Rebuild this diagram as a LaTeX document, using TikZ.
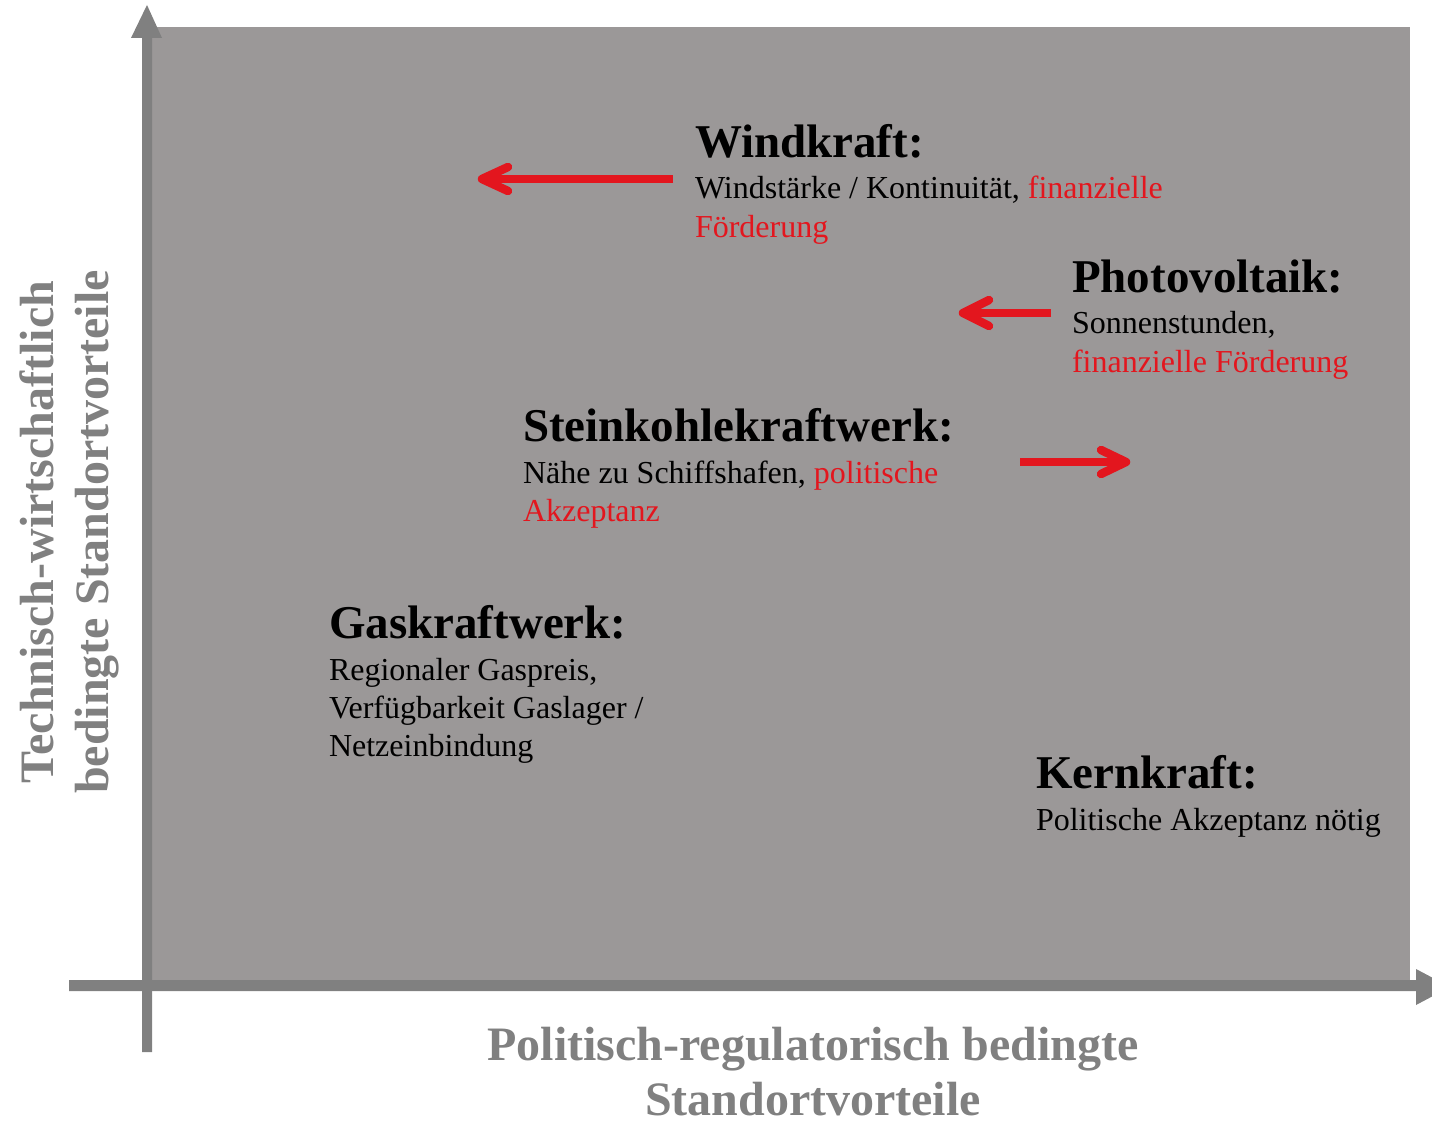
\documentclass[tikz,border=0pt]{standalone}
\usepackage{fontspec}
\setmainfont{Liberation Serif}
\definecolor{bgray}{RGB}{155,152,152}
\definecolor{axgray}{RGB}{128,128,128}
\definecolor{ared}{RGB}{227,22,30}
\begin{document}
\begin{tikzpicture}[x=1pt,y=-1pt,
  title/.style={anchor=base west, inner sep=0pt, outer sep=0pt, font=\fontsize{47}{52}\selectfont\bfseries},
  body/.style={anchor=base west, inner sep=0pt, outer sep=0pt, font=\fontsize{32}{38}\selectfont},
  axlabel/.style={anchor=base, inner sep=0pt, outer sep=0pt, text=axgray, font=\fontsize{48}{56}\selectfont\bfseries},
  shaft/.style={draw=ared, line width=8.5pt, line cap=butt},
  head/.style={draw=ared, line width=8.5pt, line cap=round, line join=round},
  axis/.style={fill=axgray},
  hi/.style={text=ared}
]
\useasboundingbox (0,0) rectangle (1432,1123);
\clip (0,0) rectangle (1432,1123);

% background field
\fill[bgray] (152,27) rectangle (1410,985);

% axes
\fill[axis] (142,1052) -- (142,38) -- (131,38) -- (147,5) -- (162,38) -- (152,38) -- (152,1052) -- cycle;
\fill[axis] (69,980) -- (1416,980) -- (1416,969) -- (1450,987) -- (1416,1005) -- (1416,991) -- (69,991) -- cycle;

% axis labels
\node[axlabel] (xl1) at (813,1060) {Politisch-regulatorisch bedingte};
\node[axlabel] (xl2) at (813,1115) {Standortvorteile};
\node[axlabel, rotate=90] (yl1) at (53,532) {Technisch-wirtschaftlich};
\node[axlabel, rotate=90] (yl2) at (108,532) {bedingte Standortvorteile};

% Windkraft
\node[title] (wt) at (695,158) {Windkraft:};
\node[body] (wb1) at (695,199) {Windstärke / Kontinuität, \textcolor{ared}{finanzielle}};
\node[body, hi] (wb2) at (695,238) {Förderung};

% Photovoltaik
\node[title] (pt) at (1072,293) {Photovoltaik:};
\node[body] (pb1) at (1072,334) {Sonnenstunden,};
\node[body, hi] (pb2) at (1072,372) {finanzielle Förderung};

% Steinkohlekraftwerk
\node[title] (st) at (523,441) {Steinkohlekraftwerk:};
\node[body] (sb1) at (523,483) {Nähe zu Schiffshafen, \textcolor{ared}{politische}};
\node[body, hi] (sb2) at (523,521) {Akzeptanz};

% Gaskraftwerk
\node[title] (gt) at (329,638) {Gaskraftwerk:};
\node[body] (gb1) at (329,680) {Regionaler Gaspreis,};
\node[body] (gb2) at (329,718) {Verfügbarkeit Gaslager /};
\node[body] (gb3) at (329,756) {Netzeinbindung};

% Kernkraft
\node[title] (kt) at (1036,788) {Kernkraft:};
\node[body] (kb1) at (1036,830) {Politische Akzeptanz nötig};

% red arrows
\coordinate (wa0) at (673,179);
\coordinate (wa1) at (482,179);
\coordinate (wa2) at (508,167);
\coordinate (wa3) at (508,191);
\draw[shaft] (wa0) -- ([xshift=2pt]wa1);
\draw[head] (wa2) -- (wa1) -- (wa3);

\coordinate (pa0) at (1051,313);
\coordinate (pa1) at (963,313);
\coordinate (pa2) at (989,300);
\coordinate (pa3) at (989,326);
\draw[shaft] (pa0) -- ([xshift=2pt]pa1);
\draw[head] (pa2) -- (pa1) -- (pa3);

\coordinate (sa0) at (1020,462);
\coordinate (sa1) at (1126,462);
\coordinate (sa2) at (1101,450);
\coordinate (sa3) at (1101,474);
\draw[shaft] (sa0) -- ([xshift=-2pt]sa1);
\draw[head] (sa2) -- (sa1) -- (sa3);
\end{tikzpicture}
\end{document}
